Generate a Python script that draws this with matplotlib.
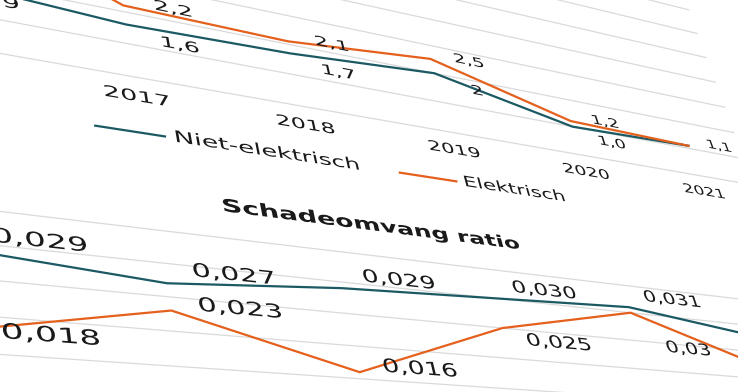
import numpy as np
import matplotlib.pyplot as plt
from matplotlib.transforms import Transform, Affine2D, IdentityTransform
from matplotlib.patheffects import AbstractPathEffect
from matplotlib.path import Path

# ---- data ----
years = [2016, 2017, 2018, 2019, 2020, 2021]
series = ['Niet-elektrisch', 'Elektrisch']

freq_niet = [1.9, 1.6, 1.7, 2.0, 1.0, 1.1]
freq_elek = [4.3, 2.2, 2.1, 2.5, 1.2, 1.1]
freq_niet_labels = ['1,9', '1,6', '1,7', '2', '1,0', '']
freq_elek_labels = ['4,3', '2,2', '2,1', '2,5', '1,2', '1,1']
freq_grid = [0, 1, 2, 3, 4, 5, 6, 7]

ratio_title = 'Schadeomvang ratio'
ratio_niet = [0.029, 0.027, 0.029, 0.030, 0.031, 0.028]
ratio_elek = [0.018, 0.023, 0.016, 0.025, 0.030, 0.022]
ratio_niet_labels = ['0,029', '0,027', '0,029', '0,030', '0,031', '0,028']
ratio_elek_labels = ['0,018', '0,023', '0,016', '0,025', '0,03', '0,022']
ratio_grid = [0, 0.005, 0.010, 0.015, 0.020, 0.025, 0.030, 0.035]

# ---- layout ----
W, H = 738, 392
TEAL = '#1c5a63'
ORANGE = '#e4601c'
GRID = '#dadada'
COL = 4.3            # page units per year
RATIO_BASE = 10.475  # page position of the 0 line of the lower chart
RATIO_SCALE = 175.0  # page units per ratio unit
NOM = 36.0           # px per page unit used to size the fonts
STRETCH = 1.42       # the page is stretched sideways

# the page is photographed at an angle: a rectangle of it and where it lands
flat_quad = [(1 * COL, 0), (5 * COL, 0), (1 * COL, 7.1), (5 * COL, 7.1)]
pic_quad = [(134.5, 76.9), (698.9, 175.5), (175.4, 336.3), (771.9, 383.4)]


def homography(src, dst):
    A, b = [], []
    for (u, v), (x, y) in zip(src, dst):
        A.append([u, v, 1, 0, 0, 0, -u * x, -v * x]); b.append(x)
        A.append([0, 0, 0, u, v, 1, -u * y, -v * y]); b.append(y)
    h = np.linalg.solve(np.array(A, float), np.array(b, float))
    return np.append(h, 1.0).reshape(3, 3)


class Perspective(Transform):
    input_dims = output_dims = 2

    def __init__(self, M):
        super().__init__()
        self.M = M

    def transform_non_affine(self, values):
        pts = np.asarray(values, float).reshape(-1, 2)
        p = np.column_stack([pts, np.ones(len(pts))]) @ self.M.T
        return p[:, :2] / p[:, 2:3]


fig = plt.figure(figsize=(W / 100, H / 100), dpi=100)
ax = fig.add_axes([0, 0, 1, 1])
ax.set_autoscale_on(False)
ax.set_xlim(0, W)
ax.set_ylim(H, 0)
ax.axis('off')

persp = Perspective(homography(flat_quad, pic_quad))
page = persp + ax.transData
top_aff = Affine2D().scale(COL, -1)
bot_aff = Affine2D().scale(COL, -RATIO_SCALE).translate(0, RATIO_BASE)


class OnPage(AbstractPathEffect):
    # lays the glyphs of a text onto the tilted page
    def __init__(self, u, v):
        super().__init__()
        self.u, self.v = u, v

    def draw_path(self, renderer, gc, tpath, affine, rgbFace=None):
        anchor = page.transform([[self.u, self.v]])[0]
        d = affine.transform(tpath.vertices) - anchor
        flat = np.column_stack([self.u + d[:, 0] * STRETCH / NOM, self.v - d[:, 1] / NOM])
        renderer.draw_path(gc, Path(page.transform(flat), tpath.codes), IdentityTransform(), rgbFace)


def put_text(u, v, s, size, **kw):
    x, y = persp.transform([[u, v]])[0]
    ax.text(x, y, s, fontsize=size * NOM * 0.72, color='#1a1a1a',
            path_effects=[OnPage(u, v)], **kw)


def label(aff, x, y, s, size, dx=0.0, dv=0.0, **kw):
    u, v = aff.transform([x, y])
    put_text(u + dx * COL, v + dv, s, size, ha='center', va='center', **kw)


xs = np.arange(len(years))
left, right = -0.5, len(years) - 0.5

# upper chart
for g in freq_grid:
    ax.plot([left, right], [g, g], color=GRID, lw=0.9, transform=top_aff + page, zorder=1)
ax.plot(xs, freq_niet, color=TEAL, lw=1.6, solid_joinstyle='round', transform=top_aff + page, zorder=3)
ax.plot(xs, freq_elek, color=ORANGE, lw=1.6, solid_joinstyle='round', transform=top_aff + page, zorder=3)
for i in xs:
    if freq_niet_labels[i]:
        label(top_aff, i, freq_niet[i], freq_niet_labels[i], 0.45, dx=0.3, dv=0.35)
    if freq_elek_labels[i]:
        label(top_aff, i, freq_elek[i], freq_elek_labels[i], 0.45, dx=0.3, dv=-0.2)
    label(top_aff, i, 0, str(years[i]), 0.45, dv=0.6)

# legend
for name, col, (a, b) in zip(series, [TEAL, ORANGE], [(0.74, 1.12), (2.56, 2.95)]):
    ax.plot([a * COL, b * COL], [1.65, 1.65], color=col, lw=1.6, transform=page)
    put_text((b + 0.05) * COL, 1.62, name, 0.47, ha='left', va='center')

# lower chart
top_line = RATIO_BASE - RATIO_SCALE * ratio_grid[-1]
put_text(2.33 * COL, top_line - 0.9, ratio_title, 0.5, ha='center', va='center', fontweight='bold')
for g in ratio_grid:
    ax.plot([left, right], [g, g], color=GRID, lw=0.9, transform=bot_aff + page, zorder=1)
ax.plot(xs, ratio_niet, color=TEAL, lw=1.6, solid_joinstyle='round', transform=bot_aff + page, zorder=3)
ax.plot(xs, ratio_elek, color=ORANGE, lw=1.6, solid_joinstyle='round', transform=bot_aff + page, zorder=3)
elek_dv = [0.0, -0.2, -0.2, 0.3, 1.0, 0.3]
for i in xs:
    label(bot_aff, i, ratio_niet[i], ratio_niet_labels[i], 0.5, dx=0.38, dv=-0.4)
    label(bot_aff, i, ratio_elek[i], ratio_elek_labels[i], 0.5, dx=0.38, dv=elek_dv[i])

fig.savefig('out.png', dpi=100)
